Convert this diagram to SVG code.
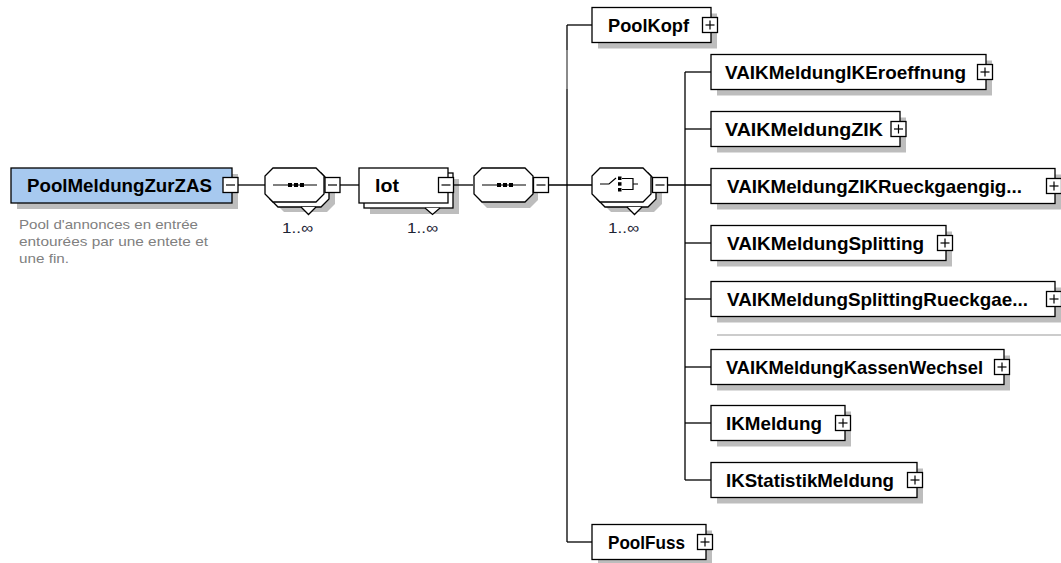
<svg xmlns="http://www.w3.org/2000/svg" width="1061" height="563" viewBox="0 0 1061 563">
<style>
.box{fill:#ffffff;stroke:#000;stroke-width:1.3}
.root{fill:#a7c9ef;stroke:#000;stroke-width:1.3}
.pm{fill:#ffffff;stroke:#000;stroke-width:1.3}
.sym{stroke:#000;stroke-width:1.2;fill:none}
.lbl{font-family:"Liberation Sans",Arial,sans-serif;font-weight:bold;font-size:19px;fill:#000}
.desc{font-family:"Liberation Sans",Arial,sans-serif;font-size:13.5px;fill:#808080}
.card{font-family:"Liberation Sans",Arial,sans-serif;font-size:15px;fill:#1c2434}
.con{stroke:#000;stroke-width:1.3;fill:none}
</style>
<defs>
<g id="minus"><rect class="pm" x="0" y="0" width="15" height="15"/><line class="sym" x1="3" y1="7.5" x2="12" y2="7.5"/></g>
<g id="plus"><rect class="pm" x="0" y="0" width="15" height="15"/><line class="sym" x1="3" y1="7.5" x2="12" y2="7.5"/><line class="sym" x1="7.5" y1="3" x2="7.5" y2="12"/></g>
</defs>
<rect x="0" y="0" width="1061" height="563" fill="#ffffff"/>

<g id="shadows" fill="#bdbdbd">
<rect x="17" y="174" width="221" height="35"/>
<polygon points="284,178 327,178 335,186 335,204 327,212 284,212 276,204 276,186"/>
<rect x="370" y="179" width="89" height="35"/>
<polygon points="487,174 530,174 538,182 538,200 530,208 487,208 479,200 479,182"/>
<polygon points="611,178 654,178 662,186 662,204 654,212 611,212 603,204 603,186"/>
<rect x="598" y="13.5" width="119" height="35"/>
<rect x="717" y="60.5" width="275" height="35"/>
<rect x="717" y="117.5" width="189" height="35"/>
<rect x="717" y="174.5" width="344" height="35"/>
<rect x="717" y="231.5" width="235" height="35"/>
<rect x="717" y="287.5" width="344" height="35"/>
<rect x="717" y="355.5" width="293" height="35"/>
<rect x="717" y="411.5" width="134" height="35"/>
<rect x="717" y="468.5" width="206" height="35"/>
<rect x="598" y="530.5" width="114" height="35"/>
</g>

<g id="connectors">
<line class="con" x1="238" y1="185" x2="265" y2="185"/>
<line class="con" x1="340" y1="185" x2="359" y2="185"/>
<line class="con" x1="453" y1="185" x2="473" y2="185"/>
<line class="con" x1="548" y1="185" x2="592" y2="185"/>
<line class="con" x1="667" y1="185" x2="711" y2="185"/>
<line class="con" x1="567" y1="25" x2="567" y2="50"/>
<line class="con" x1="567" y1="89" x2="567" y2="542"/>
<line x1="567" y1="50" x2="567" y2="89" stroke="#8a8a8a" stroke-width="2"/>
<line class="con" x1="567" y1="25" x2="592" y2="25"/>
<line class="con" x1="567" y1="542" x2="592" y2="542"/>
<line class="con" x1="685" y1="72" x2="685" y2="480"/>
<line class="con" x1="685" y1="72" x2="711" y2="72"/>
<line class="con" x1="685" y1="129" x2="711" y2="129"/>
<line class="con" x1="685" y1="243" x2="711" y2="243"/>
<line class="con" x1="685" y1="299" x2="711" y2="299"/>
<line class="con" x1="685" y1="367" x2="711" y2="367"/>
<line class="con" x1="685" y1="423" x2="711" y2="423"/>
<line class="con" x1="685" y1="480" x2="711" y2="480"/>
<line x1="717" y1="335" x2="1061" y2="335" stroke="#cccccc" stroke-width="2"/>
</g>

<g id="PoolMeldungZurZAS">
<rect class="root" x="11" y="168" width="221" height="35"/>
<text class="lbl" x="27" y="192" textLength="185" lengthAdjust="spacingAndGlyphs">PoolMeldungZurZAS</text>
<use href="#minus" x="223" y="177.5"/>
<text class="desc" x="19" y="229" textLength="179" lengthAdjust="spacingAndGlyphs">Pool d'annonces en entrée</text>
<text class="desc" x="19" y="246" textLength="189" lengthAdjust="spacingAndGlyphs">entourées par une entete et</text>
<text class="desc" x="19" y="263" textLength="50" lengthAdjust="spacingAndGlyphs">une fin.</text>
</g>

<g id="sequence1">
<polygon class="box" points="278,173 321,173 329,181 329,199 321,207 278,207 270,199 270,181"/>
<polyline class="box" points="301,207 308.5,214.5 316,207"/>
<polygon class="box" points="273,168 316,168 324,176 324,194 316,202 273,202 265,194 265,176"/>
<line class="sym" x1="273" y1="185" x2="317" y2="185"/>
<rect x="288" y="183" width="4" height="4"/><rect x="294" y="183" width="4" height="4"/><rect x="300" y="183" width="4" height="4"/>
<use href="#minus" x="325" y="177.5"/>
<text class="card" x="282" y="233" textLength="31" lengthAdjust="spacingAndGlyphs">1..∞</text>
</g>

<g id="lot">
<rect class="box" x="364" y="173" width="89" height="35"/>
<polyline class="box" points="425,208 432.5,214.5 440,208"/>
<rect class="box" x="359" y="168" width="89" height="35"/>
<text class="lbl" x="375" y="192" textLength="24" lengthAdjust="spacingAndGlyphs">lot</text>
<use href="#minus" x="438.5" y="177.5"/>
<text class="card" x="407" y="233" textLength="31" lengthAdjust="spacingAndGlyphs">1..∞</text>
</g>

<g id="sequence2">
<polygon class="box" points="482,168 525,168 533,176 533,194 525,202 482,202 474,194 474,176"/>
<line class="sym" x1="482" y1="185" x2="526" y2="185"/>
<rect x="497" y="183" width="4" height="4"/><rect x="503" y="183" width="4" height="4"/><rect x="509" y="183" width="4" height="4"/>
<use href="#minus" x="533.5" y="177.5"/>
</g>

<g id="choice">
<polygon class="box" points="605,173 648,173 656,181 656,199 648,207 605,207 597,199 597,181"/>
<polyline class="box" points="627,207 634.5,214.5 642,207"/>
<polygon class="box" points="600,168 643,168 651,176 651,194 643,202 600,202 592,194 592,176"/>
<path class="sym" d="M600,184 H609 L616,178 M622,178.5 H633 V189.5 H622 M633,184 H638"/>
<rect x="618" y="176.5" width="3.5" height="3.5"/><rect x="618" y="182.2" width="3.5" height="3.5"/><rect x="618" y="188" width="3.5" height="3.5"/>
<use href="#minus" x="652.5" y="177.5"/>
<text class="card" x="608" y="233" textLength="31" lengthAdjust="spacingAndGlyphs">1..∞</text>
</g>

<g id="PoolKopf">
<rect class="box" x="592" y="7.5" width="119" height="35"/>
<text class="lbl" x="608" y="32" textLength="81" lengthAdjust="spacingAndGlyphs">PoolKopf</text>
<use href="#plus" x="702.5" y="17.5"/>
</g>

<g id="VAIKMeldungIKEroeffnung">
<rect class="box" x="711" y="54.5" width="275" height="35"/>
<text class="lbl" x="725" y="79" textLength="241" lengthAdjust="spacingAndGlyphs">VAIKMeldungIKEroeffnung</text>
<use href="#plus" x="977.5" y="64.5"/>
</g>

<g id="VAIKMeldungZIK">
<rect class="box" x="711" y="111.5" width="189" height="35"/>
<text class="lbl" x="725" y="136" textLength="158" lengthAdjust="spacingAndGlyphs">VAIKMeldungZIK</text>
<use href="#plus" x="891" y="121.5"/>
</g>

<g id="VAIKMeldungZIKRueckgaengig">
<rect class="box" x="711" y="168.5" width="344" height="35"/>
<text class="lbl" x="727" y="193" textLength="295" lengthAdjust="spacingAndGlyphs">VAIKMeldungZIKRueckgaengig...</text>
<use href="#plus" x="1046.5" y="178.5"/>
</g>

<g id="VAIKMeldungSplitting">
<rect class="box" x="711" y="225.5" width="235" height="35"/>
<text class="lbl" x="727" y="250" textLength="197" lengthAdjust="spacingAndGlyphs">VAIKMeldungSplitting</text>
<use href="#plus" x="937.5" y="235.5"/>
</g>

<g id="VAIKMeldungSplittingRueckgae">
<rect class="box" x="711" y="281.5" width="344" height="35"/>
<text class="lbl" x="727" y="306" textLength="301" lengthAdjust="spacingAndGlyphs">VAIKMeldungSplittingRueckgae...</text>
<use href="#plus" x="1046.5" y="291.5"/>
</g>

<g id="VAIKMeldungKassenWechsel">
<rect class="box" x="711" y="349.5" width="293" height="35"/>
<text class="lbl" x="726" y="374" textLength="257" lengthAdjust="spacingAndGlyphs">VAIKMeldungKassenWechsel</text>
<use href="#plus" x="994.5" y="359.5"/>
</g>

<g id="IKMeldung">
<rect class="box" x="711" y="405.5" width="134" height="35"/>
<text class="lbl" x="726" y="430" textLength="96" lengthAdjust="spacingAndGlyphs">IKMeldung</text>
<use href="#plus" x="835.5" y="415.5"/>
</g>

<g id="IKStatistikMeldung">
<rect class="box" x="711" y="462.5" width="206" height="35"/>
<text class="lbl" x="726" y="487" textLength="168" lengthAdjust="spacingAndGlyphs">IKStatistikMeldung</text>
<use href="#plus" x="907.5" y="472.5"/>
</g>

<g id="PoolFuss">
<rect class="box" x="592" y="524.5" width="114" height="35"/>
<text class="lbl" x="608" y="549" textLength="77" lengthAdjust="spacingAndGlyphs">PoolFuss</text>
<use href="#plus" x="697.5" y="534.5"/>
</g>
</svg>
